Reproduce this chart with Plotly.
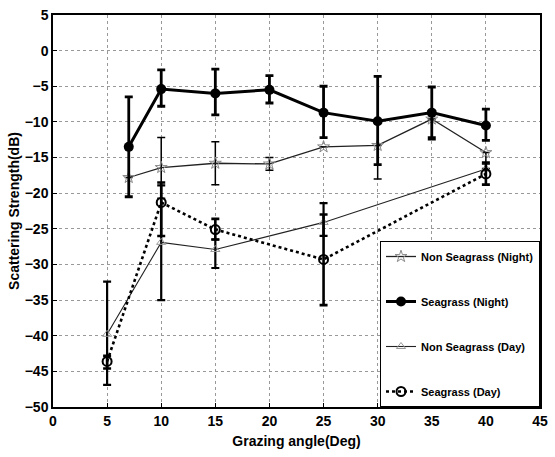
import plotly.graph_objects as go

# Grazing angles (deg) and scattering strength (dB) for each survey
angle_sg_night = [7, 10, 15, 20, 25, 30, 35, 40]
ss_sg_night = [-13.5, -5.4, -6.0, -5.5, -8.7, -9.9, -8.7, -10.5]
up_sg_night = [7.0, 2.7, 3.4, 2.0, 3.7, 6.3, 3.6, 2.3]
dn_sg_night = [7.0, 2.4, 3.0, 1.85, 3.5, 6.1, 3.5, 2.1]

angle_nsg_night = [7, 10, 15, 20, 25, 30, 35, 40]
ss_nsg_night = [-17.8, -16.4, -15.8, -15.9, -13.5, -13.3, -9.6, -14.3]
up_nsg_night = [0.0, 4.2, 3.0, 0.9, 0.0, 0.0, 0.0, 0.0]
dn_nsg_night = [0.0, 4.3, 3.0, 0.9, 0.0, 4.7, 2.9, 1.6]

angle_nsg_day = [5, 10, 15, 25, 40]
ss_nsg_day = [-39.8, -26.9, -27.9, -24.1, -16.6]
up_nsg_day = [7.4, 8.0, 1.4, 2.7, 0.0]
dn_nsg_day = [7.1, 8.1, 2.6, 1.9, 0.0]

angle_sg_day = [5, 10, 15, 25, 40]
ss_sg_day = [-43.6, -21.3, -25.1, -29.3, -17.3]
up_sg_day = [0.8, 2.8, 1.5, 6.3, 1.6]
dn_sg_day = [1.0, 4.7, 1.4, 6.4, 1.5]

x_ticks = list(range(0, 46, 5))
y_ticks = list(range(-50, 6, 5))

fig = go.Figure()


def err(up, dn, thick):
    return dict(type="data", symmetric=False, array=up, arrayminus=dn,
                color="black", thickness=thick, width=4)


fig.add_trace(go.Scatter(
    x=angle_nsg_night, y=ss_nsg_night, name="Non Seagrass (Night)",
    mode="lines+markers", legendgroup="a",
    line=dict(color="#222", width=1.3),
    marker=dict(symbol="star-open", size=9, color="#888", line=dict(width=1)),
    error_y=err(up_nsg_night, dn_nsg_night, 1.5)))

fig.add_trace(go.Scatter(
    x=angle_sg_night, y=ss_sg_night, name="Seagrass (Night)",
    mode="lines+markers", legendgroup="b",
    line=dict(color="black", width=3),
    marker=dict(symbol="circle", size=10, color="black"),
    error_y=err(up_sg_night, dn_sg_night, 2.8)))

fig.add_trace(go.Scatter(
    x=angle_nsg_day, y=ss_nsg_day, name="Non Seagrass (Day)",
    mode="lines+markers", legendgroup="c",
    line=dict(color="#222", width=1.1),
    marker=dict(symbol="triangle-up-open", size=8, color="#999", line=dict(width=1)),
    error_y=err(up_nsg_day, dn_nsg_day, 2.2)))

fig.add_trace(go.Scatter(
    x=angle_sg_day, y=ss_sg_day, name="Seagrass (Day)",
    mode="lines+markers", legendgroup="d",
    line=dict(color="black", width=2.6, dash="dot"),
    marker=dict(symbol="circle-open", size=9, color="black", line=dict(width=2)),
    error_y=err(up_sg_day, dn_sg_day, 2.6)))

axis_common = dict(
    showline=True, linecolor="black", linewidth=1.5, mirror=True,
    ticks="inside", ticklen=4, tickcolor="black",
    showgrid=True, gridcolor="#999", griddash="dot", gridwidth=1,
    zeroline=False,
    tickfont=dict(family="Liberation Sans", size=14, color="black", weight="bold"),
    title_font=dict(family="Liberation Sans", size=14, color="black", weight="bold"),
)

fig.update_xaxes(range=[0, 45], tickvals=x_ticks, title_text="Grazing angle(Deg)",
                 title_standoff=9, **axis_common)
fig.update_yaxes(range=[-50, 5], tickvals=y_ticks, title_text="Scattering Strength(dB)",
                 title_standoff=2, **axis_common)

fig.update_layout(
    width=555, height=457,
    margin=dict(l=53, r=7, t=14, b=50),
    paper_bgcolor="white", plot_bgcolor="white",
    showlegend=True,
    legend=dict(
        x=1.0, y=0.0, xanchor="right", yanchor="bottom",
        bordercolor="black", borderwidth=1, bgcolor="white",
        tracegroupgap=26, itemwidth=30,
        font=dict(family="Liberation Sans", size=11, color="black", weight="bold"),
    ),
)

fig.write_html("out.html")
